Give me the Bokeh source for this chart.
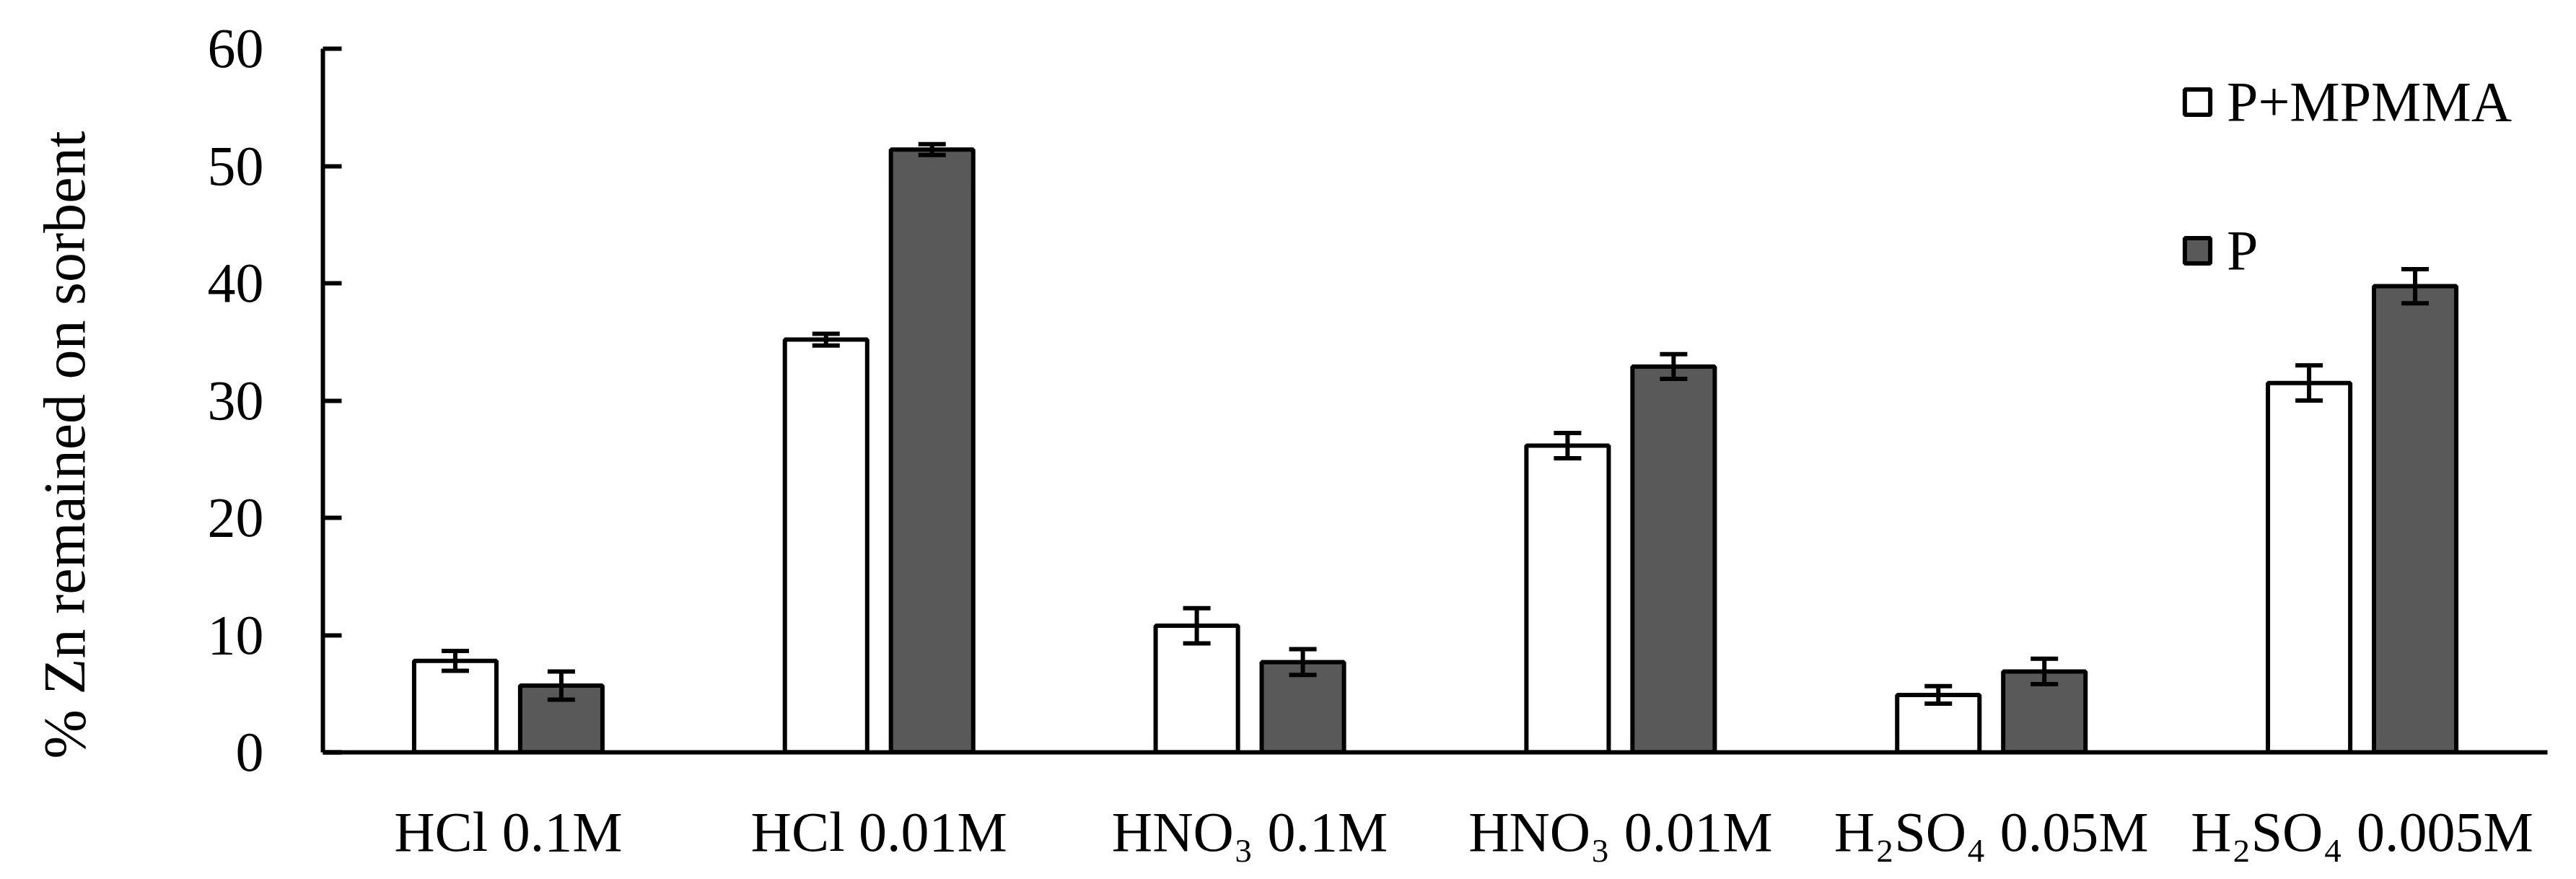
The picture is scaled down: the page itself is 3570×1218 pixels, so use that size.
from bokeh.plotting import figure
from bokeh.models import (ColumnDataSource, FactorRange, Range1d, Whisker, TeeHead,
                          Legend, LegendItem, SingleIntervalTicker)
from bokeh.transform import dodge
from bokeh.embed import file_html
from bokeh.resources import INLINE

categories = ["HCl 0.1M", "HCl 0.01M", "HNO\u2083 0.1M", "HNO\u2083 0.01M",
              "H\u2082SO\u2084 0.05M", "H\u2082SO\u2084 0.005M"]
p_mpmma = [7.8, 35.2, 10.8, 26.15, 4.9, 31.5]
p_mpmma_err = [0.85, 0.5, 1.5, 1.08, 0.74, 1.5]
p_only = [5.7, 51.4, 7.7, 32.9, 6.9, 39.75]
p_only_err = [1.2, 0.46, 1.1, 1.05, 1.08, 1.45]
series_names = ["P+MPMMA", "P"]
y_title = "% Zn remained on sorbent"
y_ticks_interval = 10

FONT = "Liberation Serif"

src = ColumnDataSource(dict(
    cat=categories,
    a=p_mpmma, a_up=[v + e for v, e in zip(p_mpmma, p_mpmma_err)],
    a_lo=[v - e for v, e in zip(p_mpmma, p_mpmma_err)],
    b=p_only, b_up=[v + e for v, e in zip(p_only, p_only_err)],
    b_lo=[v - e for v, e in zip(p_only, p_only_err)],
))

p = figure(width=3550, height=1200, output_backend="svg", toolbar_location=None,
           x_range=FactorRange(*categories, range_padding=0), y_range=Range1d(0, 60),
           min_border_left=447, min_border_right=20, min_border_top=67, min_border_bottom=158)
p.outline_line_color = None
p.xgrid.grid_line_color = None
p.ygrid.grid_line_color = None
p.background_fill_color = "white"
p.border_fill_color = "white"

off = 0.143
bw = 0.222
r1 = p.vbar(x=dodge("cat", -off, range=p.x_range), top="a", width=bw, source=src,
            fill_color="white", line_color="black", line_width=6)
r2 = p.vbar(x=dodge("cat", off, range=p.x_range), top="b", width=bw, source=src,
            fill_color="#595959", line_color="black", line_width=6)

for base, up, lo in [(-off, "a_up", "a_lo"), (off, "b_up", "b_lo")]:
    w = Whisker(source=src, base=dodge("cat", base, range=p.x_range), upper=up, lower=lo,
                line_color="black", line_width=6, level="overlay",
                upper_head=TeeHead(size=38, line_width=6, line_color="black"),
                lower_head=TeeHead(size=38, line_width=6, line_color="black"))
    p.add_layout(w)

# axes
yax = p.yaxis[0]
yax.ticker = SingleIntervalTicker(interval=y_ticks_interval)
yax.axis_line_width = 6
yax.major_tick_line_width = 6
yax.major_tick_in = 26
yax.major_tick_out = 0
yax.minor_tick_line_color = None
yax.major_label_text_font = FONT
yax.major_label_text_font_size = "78px"
yax.major_label_text_color = "black"
yax.major_label_standoff = 78
yax.axis_label = y_title + " " * 6
yax.axis_label_text_font = '"Liberation Serif", serif'
yax.axis_label_text_font_size = "82px"
yax.axis_label_text_font_style = "normal"
yax.axis_label_text_color = "black"
yax.axis_label_standoff = 150

xax = p.xaxis[0]
xax.axis_line_width = 6
xax.major_tick_line_color = None
xax.minor_tick_line_color = None
xax.major_label_text_font = FONT
xax.major_label_text_font_size = "78px"
xax.major_label_text_color = "black"
xax.major_label_standoff = 60

legend = Legend(items=[LegendItem(label=series_names[0], renderers=[r1]),
                       LegendItem(label=series_names[1], renderers=[r2])],
                location=(2576, 650), orientation="vertical",
                glyph_width=44, glyph_height=44, label_height=50,
                label_standoff=19, spacing=116, padding=0, margin=0,
                border_line_color=None, background_fill_alpha=0,
                label_text_font=FONT, label_text_font_size="78px",
                label_text_color="black", label_text_baseline="middle")
p.add_layout(legend)

open("out.html", "w").write(file_html(p, INLINE))
